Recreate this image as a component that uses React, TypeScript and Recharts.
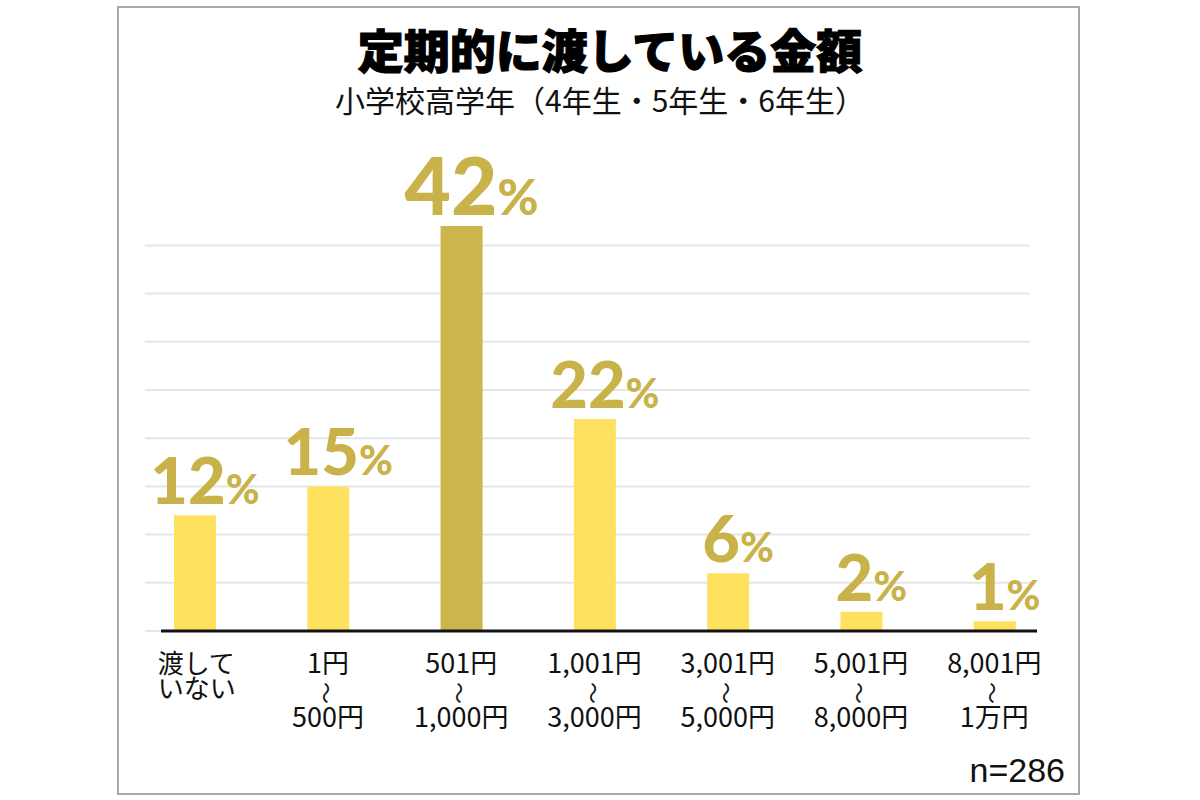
import React from "react";
import { BarChart, Bar, XAxis, YAxis, CartesianGrid, Cell, LabelList, ReferenceLine } from "recharts";

const categories = [
  "渡していない",
  "1円〜500円",
  "501円〜1,000円",
  "1,001円〜3,000円",
  "3,001円〜5,000円",
  "5,001円〜8,000円",
  "8,001円〜1万円",
];
const tickLines: string[][] = [
  ["渡して", "いない"],
  ["1円", "500円"],
  ["501円", "1,000円"],
  ["1,001円", "3,000円"],
  ["3,001円", "5,000円"],
  ["5,001円", "8,000円"],
  ["8,001円", "1万円"],
];
const values = [12, 15, 42, 22, 6, 2, 1];
const highlightIndex = 2;
const yTicks = [0, 5, 10, 15, 20, 25, 30, 35, 40];

const TITLE = "定期的に渡している金額";
const SUBTITLE = "小学校高学年（4年生・5年生・6年生）";
const NOTE = "n=286";

const data = categories.map((c, i) => ({ name: c, value: values[i], idx: i }));

const YELLOW = "#FDE15F";
const GOLD = "#CCB54B";
const LABEL_GOLD = "#C9B24A";
const JP = "'Noto Sans CJK JP', 'Noto Sans', sans-serif";

const Tick = (props: any) => {
  const { x, y, payload } = props;
  const i = categories.indexOf(payload.value);
  const lines = tickLines[i] || [String(payload.value)];
  if (i === 0) {
    return (
      <g>
        <text x={x - 37} y={y + 42} fontSize={26} fontFamily={JP} fill="#111" textAnchor="start">
          <tspan x={x - 37} y={y + 42}>{lines[0]}</tspan>
          <tspan x={x - 37} y={y + 67}>{lines[1]}</tspan>
        </text>
      </g>
    );
  }
  return (
    <g>
      <text x={x} y={y + 42} fontSize={27} fontFamily={JP} fill="#111" textAnchor="middle">{lines[0]}</text>
      <text
        x={x}
        y={y + 62}
        fontSize={22}
        fontFamily={JP}
        fill="#111"
        textAnchor="middle"
        dominantBaseline="central"
        transform={`rotate(90 ${x} ${y + 62})`}
      >
        〜
      </text>
      <text x={x} y={y + 96} fontSize={27} fontFamily={JP} fill="#111" textAnchor="middle">{lines[1]}</text>
    </g>
  );
};

const ValueLabel = (props: any) => {
  const { x, y, width, value, index } = props;
  const big = index === highlightIndex;
  return (
    <text
      x={x + width / 2 + 10}
      y={y - 11}
      textAnchor="middle"
      fill={LABEL_GOLD}
      fontFamily="Lato, 'Open Sans', sans-serif"
      fontWeight={900}
    >
      <tspan fontSize={big ? 80 : 65}>{value}</tspan>
      <tspan fontSize={big ? 50 : 41}>%</tspan>
    </text>
  );
};

const gridLine = (p: any) => {
  if (p.y != null && Math.abs(p.y1 - p.y) < 1) return <g key={p.key} />;
  return <line key={p.key} x1={p.x1 + 17} x2={p.x2 - 31} y1={p.y1} y2={p.y2} stroke="#e6e6e6" strokeWidth={2} />;
};

const baseLine = (p: any) => (
  <line x1={p.x1 + 33} x2={p.x2 - 24} y1={p.y1} y2={p.y2} stroke="#111" strokeWidth={3} />
);

export default function App() {
  return (
    <div style={{ position: "absolute", left: 0, top: 0, width: 1200, height: 800, background: "#fff" }}>
      <div
        style={{
          position: "absolute",
          left: 117,
          top: 6,
          width: 963,
          height: 789,
          border: "2px solid #a8a8a8",
          boxSizing: "border-box",
        }}
      />
      <div style={{ position: "absolute", left: 0, top: 0 }}>
        <BarChart
          width={1200}
          height={800}
          data={data}
          margin={{ top: 149, right: 139, bottom: 139, left: 128 }}
          barSize={42}
        >
          <CartesianGrid vertical={false} horizontal={gridLine} />
          <XAxis
            dataKey="name"
            axisLine={false}
            tickLine={false}
            tickSize={0}
            tickMargin={0}
            height={30}
            interval={0}
            tick={<Tick />}
          />
          <YAxis hide domain={[0, 50]} ticks={yTicks} />
          <ReferenceLine y={0} shape={baseLine} />
          <Bar dataKey="value" isAnimationActive={false}>
            {data.map((d) => (
              <Cell key={d.name} fill={d.idx === highlightIndex ? GOLD : YELLOW} />
            ))}
            <LabelList dataKey="value" content={<ValueLabel />} />
          </Bar>
        </BarChart>
      </div>
      <svg width={1200} height={800} style={{ position: "absolute", left: 0, top: 0, pointerEvents: "none" }}>
        <text
          x={610}
          y={68}
          textAnchor="middle"
          fontSize={46}
          fontWeight={900}
          fontFamily={JP}
          fill="#000"
          stroke="#000"
          strokeWidth={1.2}
        >
          {TITLE}
        </text>
        <text x={600} y={112} textAnchor="middle" fontSize={30} fontFamily={JP} fill="#111">
          {SUBTITLE}
        </text>
        <text x={1065} y={782} textAnchor="end" fontSize={34} fontFamily="'Liberation Sans', Arial, sans-serif" fill="#111">
          {NOTE}
        </text>
      </svg>
    </div>
  );
}
